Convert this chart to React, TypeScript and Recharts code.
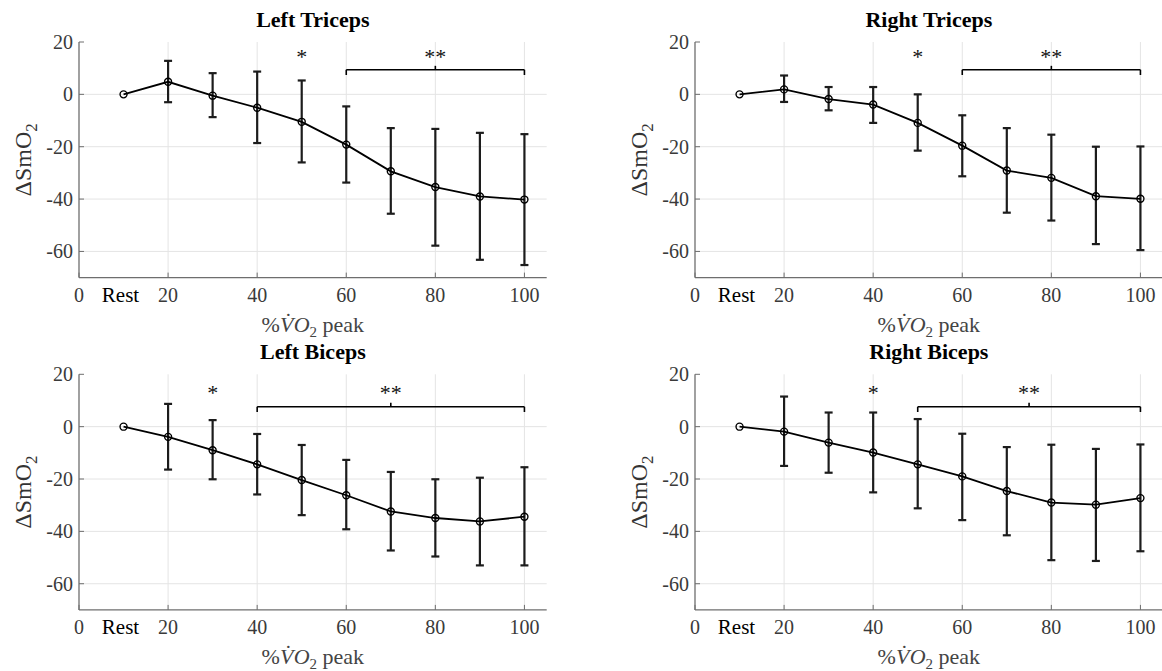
import React from 'react';
import {
    ComposedChart,
    Line,
    XAxis,
    YAxis,
    CartesianGrid,
    ErrorBar,
    ReferenceLine,
    ReferenceDot
} from 'recharts';

// exercise stages: 10 stands for "Rest"
const xLevels = [10, 20, 30, 40, 50, 60, 70, 80, 90, 100];
const xTicks = [0, 10, 20, 40, 60, 80, 100];
const yTicks = [-60, -40, -20, 0, 20];

// Left Triceps
const ltMean = [0, 4.8, -0.5, -5.1, -10.5, -19.2, -29.4, -35.4, -39.0, -40.2];
const ltHigh = [null, 12.8, 8.1, 8.7, 5.3, -4.6, -12.9, -13.2, -14.7, -15.2];
const ltLow = [null, -3.0, -8.7, -18.6, -26.0, -33.7, -45.6, -57.8, -63.2, -65.2];

// Right Triceps
const rtMean = [0, 1.9, -1.8, -3.9, -10.9, -19.6, -29.1, -31.9, -38.9, -39.9];
const rtHigh = [null, 7.2, 2.8, 2.8, 0, -8.0, -12.9, -15.4, -20.0, -19.9];
const rtLow = [null, -2.9, -6.1, -10.9, -21.5, -31.3, -45.2, -48.2, -57.2, -59.5];

// Left Biceps
const lbMean = [0, -3.9, -9.0, -14.4, -20.4, -26.2, -32.4, -34.9, -36.2, -34.4];
const lbHigh = [null, 8.7, 2.5, -2.8, -7.0, -12.7, -17.3, -20.1, -19.5, -15.5];
const lbLow = [null, -16.4, -20.1, -25.9, -33.8, -39.2, -47.3, -49.6, -53.0, -53.0];

// Right Biceps
const rbMean = [0, -1.9, -6.1, -9.9, -14.4, -19.0, -24.6, -29.0, -29.8, -27.3];
const rbHigh = [null, 11.5, 5.4, 5.4, 2.9, -2.7, -7.8, -6.9, -8.5, -6.8];
const rbLow = [null, -15.0, -17.6, -25.1, -31.2, -35.7, -41.5, -51.0, -51.3, -47.6];

const SERIF = "'Liberation Serif', 'DejaVu Serif', serif";
const AXIS = '#6e6e6e';
const TICK_TEXT = '#3a3a3a';
const GRID = '#e4e4e4';

const PLOT_LEFT = 79;
const PLOT_W = 467.7;
const PLOT_H = 235.6;

const buildRows = (mean: number[], high: (number | null)[], low: (number | null)[]) =>
    xLevels.map((x, i) => ({
        x,
        y: mean[i],
        err: high[i] == null ? null : [mean[i] - (low[i] as number), (high[i] as number) - mean[i]]
    }));

const serifStyle = (size: number): React.CSSProperties => ({ fontFamily: SERIF, fontSize: size });

const BottomTick = (props: any) => {
    const { x, y, payload } = props;
    const v = payload.value;
    if (v === 10) {
        return (
            <text x={x - 3} y={y + 24} textAnchor="middle" style={serifStyle(21)} fill="#000">
                Rest
            </text>
        );
    }
    return (
        <g>
            <line x1={x} x2={x} y1={y} y2={y - 5} stroke={AXIS} strokeWidth={1} />
            <text x={x} y={y + 24} textAnchor="middle" style={serifStyle(20)} fill={TICK_TEXT}>
                {v}
            </text>
        </g>
    );
};

const TopTick = (props: any) => {
    const { x, y } = props;
    return <line x1={x} x2={x} y1={y} y2={y + 5} stroke={AXIS} strokeWidth={1} />;
};

const LeftTick = (props: any) => {
    const { x, y, payload } = props;
    return (
        <g>
            <line x1={x} x2={x + 5} y1={y} y2={y} stroke={AXIS} strokeWidth={1} />
            <text x={x - 6} y={y + 7} textAnchor="end" style={serifStyle(20)} fill={TICK_TEXT}>
                {payload.value}
            </text>
        </g>
    );
};

const RightTick = (props: any) => {
    const { x, y } = props;
    return <line x1={x} x2={x - 5} y1={y} y2={y} stroke={AXIS} strokeWidth={1} />;
};

interface PanelSpec {
    title: string;
    mean: number[];
    high: (number | null)[];
    low: (number | null)[];
    starX: number;
    bracketFrom: number;
    bracketTo: number;
    starY: number;
    bracketY: number;
    left: number;
    top: number;
    marginTop: number;
}

const panels: PanelSpec[] = [
    { title: 'Left Triceps', mean: ltMean, high: ltHigh, low: ltLow, starX: 50, bracketFrom: 60, bracketTo: 100, starY: 15, bracketY: 9.4, left: 0, top: 0, marginTop: 42 },
    { title: 'Right Triceps', mean: rtMean, high: rtHigh, low: rtLow, starX: 50, bracketFrom: 60, bracketTo: 100, starY: 15, bracketY: 9.4, left: 616, top: 0, marginTop: 42 },
    { title: 'Left Biceps', mean: lbMean, high: lbHigh, low: lbLow, starX: 30, bracketFrom: 40, bracketTo: 100, starY: 13.7, bracketY: 7.6, left: 0, top: 340, marginTop: 34.3 },
    { title: 'Right Biceps', mean: rbMean, high: rbHigh, low: rbLow, starX: 40, bracketFrom: 50, bracketTo: 100, starY: 13.7, bracketY: 7.6, left: 616, top: 340, marginTop: 34.3 }
];

const StarText = (text: string, dy: number) => (sp: any) => (
    <text x={sp.cx} y={sp.cy + dy} textAnchor="middle" style={serifStyle(22)} fill="#111">
        {text}
    </text>
);

const Panel: React.FC<{ p: PanelSpec }> = ({ p }) => {
    const rows = buildRows(p.mean, p.high, p.low);
    const W = 560;
    const H = 340;
    const mid = (p.bracketFrom + p.bracketTo) / 2;
    const by = p.bracketY;
    const seg = { stroke: '#000', strokeWidth: 1.6, ifOverflow: 'visible' as const };
    return (
        <div style={{ position: 'absolute', left: p.left, top: p.top, width: W, height: H }}>
            <ComposedChart
                width={W}
                height={H}
                data={rows}
                margin={{ top: p.marginTop, right: W - PLOT_LEFT - PLOT_W, bottom: 0, left: 0 }}
            >
                <CartesianGrid
                    stroke={GRID}
                    strokeWidth={1}
                    verticalValues={[20, 40, 60, 80, 100]}
                    horizontalValues={[-60, -40, -20, 0]}
                />
                <XAxis
                    dataKey="x"
                    type="number"
                    domain={[0, 105]}
                    ticks={xTicks}
                    interval={0}
                    height={H - p.marginTop - PLOT_H}
                    tickSize={0}
                    tickMargin={0}
                    tickLine={false}
                    axisLine={{ stroke: AXIS, strokeWidth: 1.3 }}
                    tick={BottomTick}
                    allowDataOverflow
                />
                <XAxis
                    xAxisId="top"
                    orientation="top"
                    type="number"
                    domain={[0, 105]}
                    ticks={[20, 40, 60, 80, 100]}
                    height={0}
                    tickSize={0}
                    tickMargin={0}
                    tickLine={false}
                    axisLine={{ stroke: AXIS, strokeWidth: 1.3 }}
                    tick={TopTick}
                    allowDataOverflow
                />
                <YAxis
                    type="number"
                    domain={[-70, 20]}
                    ticks={yTicks}
                    interval={0}
                    width={PLOT_LEFT}
                    tickSize={0}
                    tickMargin={0}
                    tickLine={false}
                    axisLine={{ stroke: AXIS, strokeWidth: 1.3 }}
                    tick={LeftTick}
                    allowDataOverflow
                />
                <YAxis
                    yAxisId="right"
                    orientation="right"
                    type="number"
                    domain={[-70, 20]}
                    ticks={[-60, -40, -20, 0]}
                    width={0}
                    tickSize={0}
                    tickMargin={0}
                    tickLine={false}
                    axisLine={{ stroke: AXIS, strokeWidth: 1.3 }}
                    tick={RightTick}
                    allowDataOverflow
                />
                <ReferenceLine segment={[{ x: p.bracketFrom, y: by }, { x: p.bracketTo, y: by }]} {...seg} />
                <ReferenceLine segment={[{ x: p.bracketFrom, y: by }, { x: p.bracketFrom, y: by - 2 }]} {...seg} />
                <ReferenceLine segment={[{ x: p.bracketTo, y: by }, { x: p.bracketTo, y: by - 2 }]} {...seg} />
                <ReferenceLine segment={[{ x: mid, y: by }, { x: mid, y: by + 1.5 }]} {...seg} />
                <ReferenceDot x={p.starX} y={p.starY} r={0} shape={StarText('*', 9)} ifOverflow="visible" />
                <ReferenceDot x={mid} y={p.starY} r={0} shape={StarText('**', 9)} ifOverflow="visible" />
                <Line
                    type="linear"
                    dataKey="y"
                    stroke="#000"
                    strokeWidth={1.8}
                    dot={{ r: 3.5, stroke: '#000', strokeWidth: 1.4, fill: 'none' }}
                    activeDot={false}
                    isAnimationActive={false}
                >
                    <ErrorBar dataKey="err" direction="y" width={4} stroke="#1c1c1c" strokeWidth={2.2} isAnimationActive={false} />
                </Line>
            </ComposedChart>
        </div>
    );
};

const Labels: React.FC = () => (
    <svg
        width={1162}
        height={671}
        style={{ position: 'absolute', left: 0, top: 0, pointerEvents: 'none' }}
    >
        {panels.map((p) => {
            const cx = p.left + PLOT_LEFT + PLOT_W / 2;
            const plotTop = p.top + p.marginTop;
            const plotBottom = plotTop + PLOT_H;
            const cy = (plotTop + plotBottom) / 2;
            const ylx = p.left + 31;
            return (
                <g key={p.title}>
                    <text x={cx} y={plotTop - 15} textAnchor="middle" style={serifStyle(22)} fontWeight="bold" fill="#000">
                        {p.title}
                    </text>
                    <text x={cx} y={plotBottom + 54} textAnchor="middle" style={serifStyle(22)} fill="#444">
                        <tspan>%</tspan>
                        <tspan fontStyle="italic">V̇</tspan>
                        <tspan fontStyle="italic" dx={1}>O</tspan>
                        <tspan fontSize={15} dy={5}>2</tspan>
                        <tspan dy={-5}> peak</tspan>
                    </text>
                    <text
                        x={ylx}
                        y={cy}
                        textAnchor="middle"
                        style={serifStyle(24)}
                        fill="#333"
                        transform={`rotate(-90 ${ylx} ${cy})`}
                    >
                        <tspan>ΔSmO</tspan>
                        <tspan fontSize={17} dy={6}>2</tspan>
                    </text>
                </g>
            );
        })}
    </svg>
);

export default function App() {
    return (
        <div
            style={{
                position: 'absolute',
                left: 0,
                top: 0,
                width: 1162,
                height: 671,
                overflow: 'hidden',
                background: '#fff',
                fontFamily: SERIF
            }}
        >
            {panels.map((p) => (
                <Panel key={p.title} p={p} />
            ))}
            <Labels />
        </div>
    );
}
